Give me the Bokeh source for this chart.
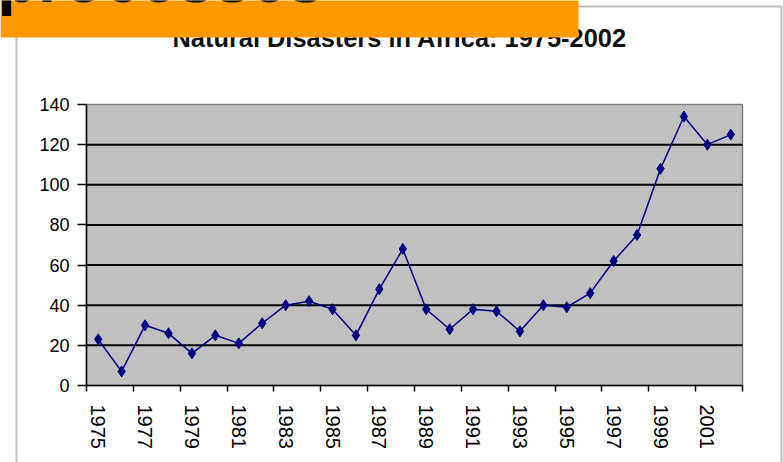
from bokeh.plotting import figure
from bokeh.models import Range1d, FixedTicker, Label, BoxAnnotation
from bokeh.embed import file_html
from bokeh.resources import INLINE

years = list(range(1975, 2003))
disasters = [23, 7, 30, 26, 16, 25, 21, 31, 40, 42, 38, 25, 48, 68,
             38, 28, 38, 37, 27, 40, 39, 46, 62, 75, 108, 134, 120, 125]
tick_labels = ["1975", "1977", "1979", "1981", "1983", "1985", "1987",
               "1989", "1991", "1993", "1995", "1997", "1999", "2001"]
y_ticks = [0, 20, 40, 60, 80, 100, 120, 140]
y_max = 140
title_text = "Natural Disasters in Africa: 1975-2002"
slide_text = "processes"

FONT = "Liberation Sans"
W, H = 783, 462
# plot-area placement on the canvas (pixels)
PL, PR, PT, PB = 86, 742, 104, 385

n = len(years)
sx = (PR - PL) / n
sy = (PB - PT) / y_max
x_range = Range1d(-PL / sx, n + (W - PR) / sx)
y_range = Range1d(-(H - PB) / sy, y_max + PT / sy)

p = figure(width=W, height=H, output_backend="svg", toolbar_location=None,
           x_range=x_range, y_range=y_range, min_border=0)
p.outline_line_color = None
p.background_fill_color = "white"
p.border_fill_color = "white"
p.grid.visible = False

# plot area
p.quad(left=[0], right=[n], bottom=[0], top=[y_max], fill_color="#C0C0C0",
       line_color="#808080", line_width=1.5)
# horizontal gridlines
gl = y_ticks[1:-1]
p.segment(x0=[0] * len(gl), x1=[n] * len(gl), y0=gl, y1=gl,
          line_color="black", line_width=2)

xs = [i + 0.5 for i in range(n)]
p.line(xs, disasters, line_color="#000080", line_width=1.5)
p.scatter(xs, disasters, marker="diamond", size=11, fill_color="#000080",
          line_color="#000080")

# x axis: labels at category centres, tick marks between categories
label_pos = [years.index(int(t)) + 0.5 for t in tick_labels]
boundaries = list(range(0, n + 1, 2))
xax = p.xaxis[0]
xax.fixed_location = 0
xax.bounds = (0, n)
xax.ticker = FixedTicker(ticks=label_pos, minor_ticks=boundaries)
xax.major_label_overrides = {pos: lab for pos, lab in zip(label_pos, tick_labels)}
xax.major_label_orientation = "vertical"
xax.major_tick_out = 0
xax.major_tick_in = 0
xax.minor_tick_out = 6
xax.minor_tick_in = 0
xax.minor_tick_line_color = "black"
xax.minor_tick_line_width = 1.5
xax.axis_line_color = "black"
xax.axis_line_width = 1.5
xax.major_label_standoff = 13
xax.major_label_text_font = FONT
xax.major_label_text_font_size = "20px"
xax.major_label_text_color = "black"

yax = p.yaxis[0]
yax.fixed_location = 0
yax.bounds = (0, y_max)
yax.ticker = FixedTicker(ticks=y_ticks)
yax.minor_tick_line_color = None
yax.major_tick_out = 9
yax.major_tick_in = 0
yax.major_tick_line_color = "black"
yax.major_tick_line_width = 1.5
yax.axis_line_color = "black"
yax.axis_line_width = 1.5
yax.major_label_standoff = 8
yax.major_label_text_font = FONT
yax.major_label_text_font_size = "18px"
yax.major_label_text_color = "black"

# outer chart border
p.add_layout(BoxAnnotation(left=16, right=781, top=6, bottom=480,
                           left_units="canvas", right_units="canvas",
                           top_units="canvas", bottom_units="canvas",
                           fill_color=None, fill_alpha=0, line_color="#333333",
                           line_width=2, level="annotation"))

# chart title (top partly hidden behind the orange banner, as in the source)
p.add_layout(Label(x=172, y=37, x_units="canvas", y_units="canvas",
                   text=title_text, text_font=FONT, text_font_size="25.4px",
                   text_font_style="bold", text_color="#111111",
                   text_baseline="alphabetic", text_align="left",
                   level="annotation"))

p.add_layout(BoxAnnotation(left=0, right=578, top=-5, bottom=37,
                           left_units="canvas", right_units="canvas",
                           top_units="canvas", bottom_units="canvas",
                           fill_color="#FF9900", fill_alpha=1.0,
                           line_color=None, level="overlay"))

p.add_layout(Label(x=-3, y=-22, x_units="canvas", y_units="canvas",
                   text=slide_text, text_font=FONT, text_font_size="66px",
                   text_font_style="bold", text_color="black",
                   text_baseline="alphabetic", text_align="left",
                   level="overlay"))

open("out.html", "w").write(file_html(p, INLINE))
